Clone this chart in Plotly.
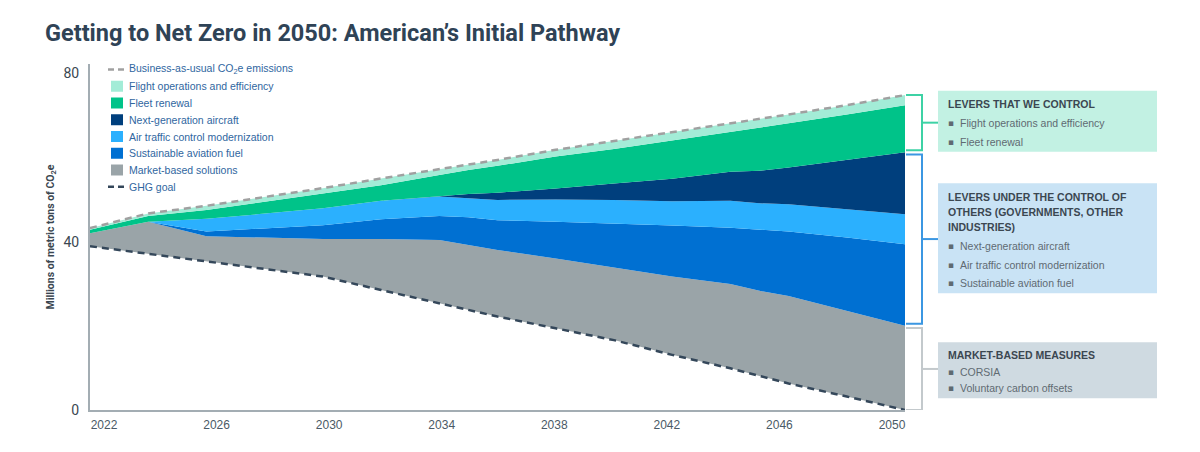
import plotly.graph_objects as go

# values (millions of metric tons of CO2e)
years = [2022, 2024, 2026, 2030, 2032, 2034, 2035, 2036, 2038, 2040, 2042, 2044, 2045, 2046, 2048, 2050]

ghg_goal = [38.9, 37.1, 35.2, 31.7, 28.5, 25.3, 23.8, 22.2, 19.4, 16.6, 13.1, 9.9, 8.1, 6.3, 3.2, 0.0]
market_based = [3.1, 7.6, 6.1, 8.9, 12.1, 15.1, 15.4, 15.8, 16.6, 17.2, 18.6, 20.0, 20.2, 20.8, 20.4, 20.0]
sustainable_fuel = [0, 0, 1.1, 3.3, 4.7, 5.7, 6.6, 7.1, 8.7, 10.5, 12.1, 13.4, 14.5, 15.3, 17.4, 19.4]
air_traffic = [0, 0, 3.0, 4.0, 4.4, 4.6, 4.5, 4.8, 5.3, 5.6, 5.8, 6.4, 6.3, 6.5, 6.7, 7.1]
next_gen = [0, 0, 0, 0, 0, 0.1, 1.0, 1.7, 2.6, 3.9, 5.3, 6.9, 7.7, 8.7, 11.7, 14.7]
fleet_renewal = [0.8, 1.4, 2.1, 3.6, 3.7, 5.0, 5.7, 6.4, 7.6, 8.2, 9.1, 9.5, 10.3, 10.5, 10.8, 11.2]
flight_ops = [0.4, 0.6, 1.0, 1.2, 1.6, 1.4, 1.4, 1.4, 1.6, 1.9, 1.9, 2.0, 2.0, 2.1, 2.2, 2.4]
business_as_usual = [43.2, 46.7, 48.5, 52.7, 55.0, 57.2, 58.4, 59.4, 61.8, 63.9, 65.9, 68.1, 69.1, 70.2, 72.4, 74.8]

tick_years = [2022, 2026, 2030, 2034, 2038, 2042, 2046, 2050]

GRAY = "#9aa4a8"
SAF_BLUE = "#0070d2"
ATC_BLUE = "#2bb0fe"
NAVY = "#003f7d"
GREEN = "#00c389"
MINT = "#a3ecd7"
GOAL_LINE = "#34475a"
BAU_LINE = "#a0a0a0"
TITLE_COLOR = "#2f4356"
TEXT_DARK = "#3b4751"
LEGEND_TEXT = "#2f66a0"
BODY_TEXT = "#5f6a72"

# the page body adds an 8px margin, so the figure is 8px smaller
PAGE_OFF = 8
W, H = 1200 - PAGE_OFF, 452 - PAGE_OFF

# plot area in screen pixels (left, right, top, bottom)
L, R, T, B = 90, 905, 64, 410


def px_x(p):
    return (p - L) / (R - L)


def px_y(p):
    return (B - p) / (B - T)


fig = go.Figure()

# stacked areas, the goal is the invisible base
layers = [
    ("GHG goal", ghg_goal, "rgba(0,0,0,0)"),
    ("Market-based solutions", market_based, GRAY),
    ("Sustainable aviation fuel", sustainable_fuel, SAF_BLUE),
    ("Air traffic control modernization", air_traffic, ATC_BLUE),
    ("Next-generation aircraft", next_gen, NAVY),
    ("Fleet renewal", fleet_renewal, GREEN),
    ("Flight operations and efficiency", flight_ops, MINT),
]
for name, vals, col in layers:
    fig.add_trace(go.Scatter(
        x=years, y=vals, name=name, stackgroup="one",
        mode="lines", line=dict(width=0), fillcolor=col,
        showlegend=False,
    ))

fig.add_trace(go.Scatter(
    x=years, y=ghg_goal, mode="lines", showlegend=False,
    line=dict(color=GOAL_LINE, width=2.5, dash="7px,5px"),
))
fig.add_trace(go.Scatter(
    x=years, y=business_as_usual, mode="lines", showlegend=False,
    line=dict(color=BAU_LINE, width=2.5, dash="7px,5px"),
))

shapes = []
annotations = []

# hand made legend in the top left corner
legend_items = [
    ("Business-as-usual CO<sub>2</sub>e emissions", "dash", BAU_LINE),
    ("Flight operations and efficiency", "box", MINT),
    ("Fleet renewal", "box", GREEN),
    ("Next-generation aircraft", "box", NAVY),
    ("Air traffic control modernization", "box", ATC_BLUE),
    ("Sustainable aviation fuel", "box", SAF_BLUE),
    ("Market-based solutions", "box", GRAY),
    ("GHG goal", "dash", GOAL_LINE),
]
for i, (label, kind, col) in enumerate(legend_items):
    cy = 69.5 + i * 16.75
    if kind == "box":
        shapes.append(dict(type="rect", xref="paper", yref="paper",
                           x0=px_x(111), x1=px_x(123), y0=px_y(cy - 5.5), y1=px_y(cy + 5.5),
                           fillcolor=col, line=dict(width=0)))
    else:
        for a, b in [(108, 114), (118, 124)]:
            shapes.append(dict(type="line", xref="paper", yref="paper",
                               x0=px_x(a), x1=px_x(b), y0=px_y(cy), y1=px_y(cy),
                               line=dict(color=col, width=2.5)))
    annotations.append(dict(text=label, xref="paper", yref="paper",
                            x=px_x(127), y=px_y(cy), xanchor="left", yanchor="middle",
                            showarrow=False,
                            font=dict(family="Liberation Sans", size=10.5, color=LEGEND_TEXT)))

# brackets at 2050 linking the stacks to the side panels
top_others = ghg_goal[-1] + market_based[-1] + sustainable_fuel[-1] + air_traffic[-1] + next_gen[-1]
top_market = ghg_goal[-1] + market_based[-1]
brackets = [
    (top_others + 0.5, business_as_usual[-1], "#3dd2a5"),
    (top_market + 0.5, top_others - 0.5, "#3b97e2"),
    (ghg_goal[-1], top_market - 0.5, "#c3c9cc"),
]
bx0, bx1, bx2 = px_x(906), px_x(922), px_x(938)
for lo, hi, col in brackets:
    shapes.append(dict(type="path", xref="paper", yref="y",
                       path=f"M {bx0},{hi} L {bx1},{hi} L {bx1},{lo} L {bx0},{lo}",
                       line=dict(color=col, width=2)))
    mid = (lo + hi) / 2
    shapes.append(dict(type="line", xref="paper", yref="y",
                       x0=bx1, x1=bx2, y0=mid, y1=mid, line=dict(color=col, width=2)))

# side panels
panels = [
    (90.7, 151.7, "#c2f1e3",
     [("LEVERS THAT WE CONTROL", 104)],
     [("Flight operations and efficiency", 123.5), ("Fleet renewal", 142)]),
    (183.3, 293.3, "#c9e3f5",
     [("LEVERS UNDER THE CONTROL OF", 197), ("OTHERS (GOVERNMENTS, OTHER", 212), ("INDUSTRIES)", 227)],
     [("Next-generation aircraft", 246), ("Air traffic control modernization", 264.5),
      ("Sustainable aviation fuel", 282.5)]),
    (342.3, 398.3, "#cfdae1",
     [("MARKET-BASED MEASURES", 354.5)],
     [("CORSIA", 371.5), ("Voluntary carbon offsets", 387.5)]),
]
for top, bottom, bg, heads, bullets in panels:
    shapes.append(dict(type="rect", xref="paper", yref="paper",
                       x0=px_x(938), x1=px_x(1157), y0=px_y(bottom), y1=px_y(top),
                       fillcolor=bg, line=dict(width=0), layer="below"))
    for txt, cy in heads:
        annotations.append(dict(text=f"<b>{txt}</b>", xref="paper", yref="paper",
                                x=px_x(946), y=px_y(cy), xanchor="left", yanchor="middle",
                                showarrow=False,
                                font=dict(family="Liberation Sans", size=10.5, color=TEXT_DARK)))
    for txt, cy in bullets:
        annotations.append(dict(text="\u25aa", xref="paper", yref="paper",
                                x=px_x(946), y=px_y(cy), xanchor="left", yanchor="middle",
                                showarrow=False,
                                font=dict(family="DejaVu Sans", size=9, color=BODY_TEXT)))
        annotations.append(dict(text=txt, xref="paper", yref="paper",
                                x=px_x(958), y=px_y(cy), xanchor="left", yanchor="middle",
                                showarrow=False,
                                font=dict(family="Liberation Sans", size=10.5, color=BODY_TEXT)))

fig.update_layout(
    width=W,
    height=H,
    margin=dict(l=L - PAGE_OFF, r=1200 - R, t=T - PAGE_OFF, b=452 - B),
    paper_bgcolor="white",
    plot_bgcolor="rgba(0,0,0,0)",
    showlegend=False,
    title=dict(
        text="Getting to Net Zero in 2050: American\u2019s Initial Pathway",
        x=(45 - PAGE_OFF) / W, xref="container", xanchor="left",
        y=1 - (33 - PAGE_OFF) / H, yref="container", yanchor="middle",
        font=dict(family="Roboto", size=23.5, weight="bold", color=TITLE_COLOR),
    ),
    xaxis=dict(
        range=[2022, 2050], showgrid=False, zeroline=False,
        showline=True, linecolor="#a3adb3", linewidth=2,
        showticklabels=False, ticks="", automargin=False,
    ),
    # tick labels sit slightly inside the ends of the axis, like the original
    xaxis2=dict(
        domain=[px_x(104), px_x(892)], anchor="y", range=[2022, 2050],
        tickvals=tick_years, showgrid=False, zeroline=False, showline=False,
        ticks="", automargin=False, ticklabelstandoff=6,
        tickfont=dict(family="Liberation Sans", size=12, color="#4a5a66"),
    ),
    yaxis=dict(
        range=[0, (B - T) / 4.21], tickvals=[0, 40, 80], showgrid=False, zeroline=False,
        showline=True, linecolor="#a3adb3", linewidth=2, ticks="",
        ticklabelstandoff=6, automargin=False,
        tickfont=dict(family="Roboto", size=14, color=TEXT_DARK),
        title=dict(text="<b>Millions of metric tons of CO<sub>2</sub>e</b>", standoff=7,
                   font=dict(family="Roboto", size=10.5, color=TEXT_DARK)),
    ),
    shapes=shapes,
    annotations=annotations,
)

# empty trace so the label axis is drawn
fig.add_trace(go.Scatter(x=[None], y=[None], xaxis="x2", yaxis="y", showlegend=False))

fig.write_html("out.html")
